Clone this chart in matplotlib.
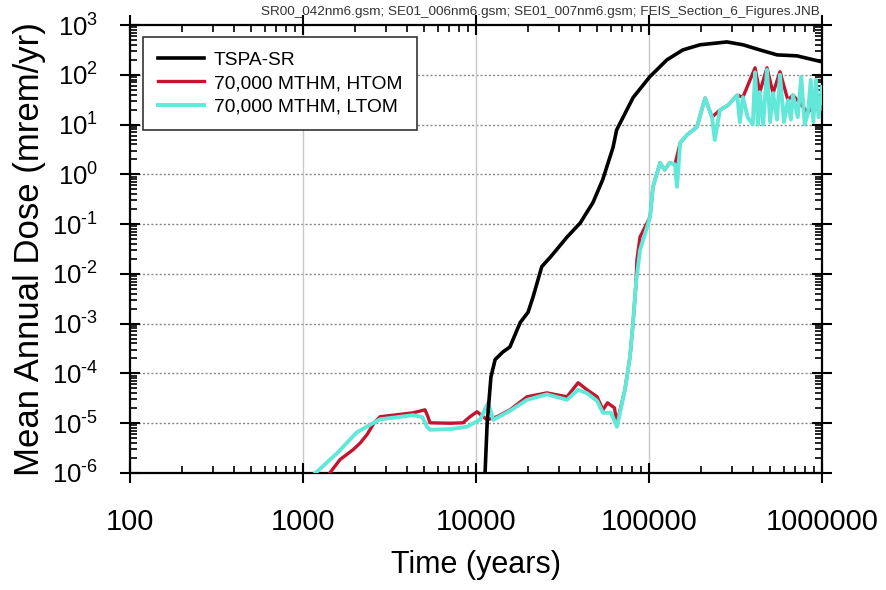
import numpy as np
import matplotlib
matplotlib.use('Agg')
import matplotlib.pyplot as plt
from matplotlib.ticker import LogLocator, NullFormatter, FixedLocator

plt.rcParams['font.family'] = ['Liberation Sans', 'DejaVu Sans']
plt.rcParams['mathtext.fontset'] = 'custom'
plt.rcParams['mathtext.rm'] = 'Liberation Sans'

# TSPA-SR (years, mrem/yr)
tspa_t = [11250, 11600, 12200, 12900, 14300, 15700, 18000, 20000, 21400, 24000, 27000,
          33600, 40000, 47400, 54000, 62000, 65000, 81000, 101000, 127000, 157000,
          197000, 282000, 350000, 437000, 550000, 716000, 1000000]
tspa_d = [8e-7, 1e-5, 8.5e-5, 1.9e-4, 2.7e-4, 3.4e-4, 1.05e-3, 1.7e-3, 3.5e-3, 1.4e-2, 2.2e-2,
          5.5e-2, 0.105, 0.27, 0.78, 3.5, 7.8, 35, 91, 200, 316,
          400, 457, 400, 316, 251, 240, 182]

# 70,000 MTHM, HTOM
htom_t = [1396, 1637, 1950, 2138, 2344, 2570, 2786, 3491, 4325, 5070, 5250, 5420, 7080, 8410,
          9230, 10140, 11590, 13210, 15740, 19720, 25700, 33570, 38900, 43850, 50120, 54200,
          57540, 63100, 65310, 72600, 77620, 80910, 84140, 85110, 88720, 101400, 105400,
          115900, 123000, 131800, 141300, 151400, 166000, 189200, 210900, 231200, 257000,
          286400, 323600, 349100, 410200, 436500, 480800, 521200, 571500, 635300, 679200,
          746400, 829800, 887200, 1000000]
htom_d = [9e-7, 1.86e-6, 2.95e-6, 3.98e-6, 5.9e-6, 1.0e-5, 1.35e-5, 1.48e-5, 1.62e-5, 1.86e-5,
          1.41e-5, 1.02e-5, 1.0e-5, 1.02e-5, 1.35e-5, 1.7e-5, 1.17e-5, 1.35e-5, 1.86e-5, 3.4e-5,
          4.07e-5, 3.4e-5, 6.5e-5, 4.7e-5, 3.4e-5, 1.86e-5, 2.57e-5, 2.04e-5, 1.02e-5, 4.7e-5,
          2.14e-4, 1.05e-3, 6.6e-3, 1.9e-2, 5.5e-2, 0.138, 0.56, 1.7, 1.23, 1.7, 1.58, 4.27,
          6.2, 8.9, 33.9, 14.1, 19.5, 24.5, 38.9, 35.5, 138, 44.7, 138, 42.7, 115, 30.9, 38.9,
          26.9, 17, 25, 20]

# 70,000 MTHM, LTOM
ltom_t = [1143, 1574, 2042, 2438, 2786, 3491, 4325, 4900, 5210, 5420, 7080, 8870, 10540, 11750,
          12590, 15740, 19720, 25700, 33570, 38900, 43850, 50120, 54200, 60260, 65310, 72600,
          77620, 80910, 84140, 88720, 101400, 105400, 115900, 123000, 131800, 141300, 145200,
          151400, 166000, 189200, 210900, 231200, 239900, 257000, 286400, 323600, 335000,
          349100, 371500, 398100, 410200, 426600, 436500, 457100, 480800, 501200, 521200,
          549500, 571500, 602600, 635300, 660700, 679200, 724400, 758600, 794300, 829800,
          861000, 891300, 922600, 955000, 1000000]
ltom_d = [9e-7, 2.5e-6, 6.5e-6, 9.3e-6, 1.2e-5, 1.32e-5, 1.45e-5, 1.32e-5, 8.5e-6, 7.4e-6,
          7.6e-6, 8.5e-6, 1.17e-5, 2.57e-5, 1.17e-5, 1.78e-5, 2.95e-5, 3.8e-5, 2.95e-5, 4.7e-5,
          4.0e-5, 2.8e-5, 1.62e-5, 1.62e-5, 8.5e-6, 4.7e-5, 2.14e-4, 1.05e-3, 6.6e-3, 3.0e-2,
          0.138, 0.56, 1.7, 1.23, 1.7, 1.58, 0.56, 4.27, 6.2, 8.9, 33.9, 14.1, 4.9, 19.5, 24.5,
          38.9, 11.2, 35.5, 14.1, 10, 112, 10, 44.7, 10, 126, 11.2, 42.7, 12.6, 100, 11.2, 30.9,
          12.6, 38.9, 14.1, 91, 10, 17, 79, 11.2, 79, 14.1, 57]

x_ticks = [1e2, 1e3, 1e4, 1e5, 1e6]
x_labels = ['100', '1000', '10000', '100000', '1000000']
y_exps = [-6, -5, -4, -3, -2, -1, 0, 1, 2, 3]

fig = plt.figure(figsize=(8.86, 5.90), dpi=100)
ax = fig.add_axes([130/886, 1-473/590, 692/886, 448/590])

ax.plot(htom_t, htom_d, color='#c2152f', lw=2.4, label='70,000 MTHM, HTOM', zorder=3)
ax.plot(ltom_t, ltom_d, color='#62e8d8', lw=2.8, label='70,000 MTHM, LTOM', zorder=4)
ax.plot(tspa_t, tspa_d, color='black', lw=2.6, label='TSPA-SR', zorder=5)

ax.set_xscale('log')
ax.set_yscale('log')
ax.set_xlim(100, 1e6)
ax.set_ylim(1e-6, 1e3)

# grid
for e in y_exps[1:-1]:
    ax.axhline(10.0**e, color='#888888', lw=1.0, ls=(0, (1.5, 1.5)), zorder=1)
for xv in x_ticks[1:-1]:
    ax.axvline(xv, color='#c8c8c8', lw=1.0, zorder=1)

ax.xaxis.set_major_locator(FixedLocator(x_ticks))
ax.set_xticklabels(x_labels)
ax.xaxis.set_minor_locator(LogLocator(base=10, subs=np.arange(2, 10)))
ax.xaxis.set_minor_formatter(NullFormatter())
ax.yaxis.set_major_locator(FixedLocator([10.0**e for e in y_exps]))
ax.set_yticklabels([r'$\mathregular{10^{%s}}$' % str(e).replace('-', '\u2010') for e in y_exps])
ax.yaxis.set_minor_locator(LogLocator(base=10, subs=np.arange(2, 10), numticks=20))
ax.yaxis.set_minor_formatter(NullFormatter())

ax.tick_params(which='major', direction='inout', length=14, width=1.5, top=True, right=True)
ax.tick_params(axis='x', which='major', labelsize=21, pad=18)
ax.tick_params(axis='y', which='major', labelsize=18.5, pad=16)
ax.tick_params(which='minor', direction='in', length=5, width=1.2, top=True, right=True)
for s in ax.spines.values():
    s.set_linewidth(1.6)

ax.set_xlabel('Time (years)', fontsize=22, labelpad=10)
ax.set_ylabel('Mean Annual Dose (mrem/yr)', fontsize=25, labelpad=4)

handles, labels = ax.get_legend_handles_labels()
order = [2, 0, 1]
leg = ax.legend([handles[i] for i in order], [labels[i] for i in order],
                loc='upper left', bbox_to_anchor=(0.019, 0.973), borderaxespad=0,
                fontsize=13.8, frameon=True, fancybox=False, edgecolor='#333333',
                framealpha=1, handlelength=2.4, handletextpad=0.55, borderpad=0.75,
                labelspacing=0.3)
leg.get_frame().set_linewidth(1.2)

fig.text(820/886, 1-12/590,
         'SR00_042nm6.gsm; SE01_006nm6.gsm; SE01_007nm6.gsm; FEIS_Section_6_Figures.JNB',
         ha='right', va='center', fontsize=9.7, color='#333333')

fig.savefig('out.png', dpi=100)
